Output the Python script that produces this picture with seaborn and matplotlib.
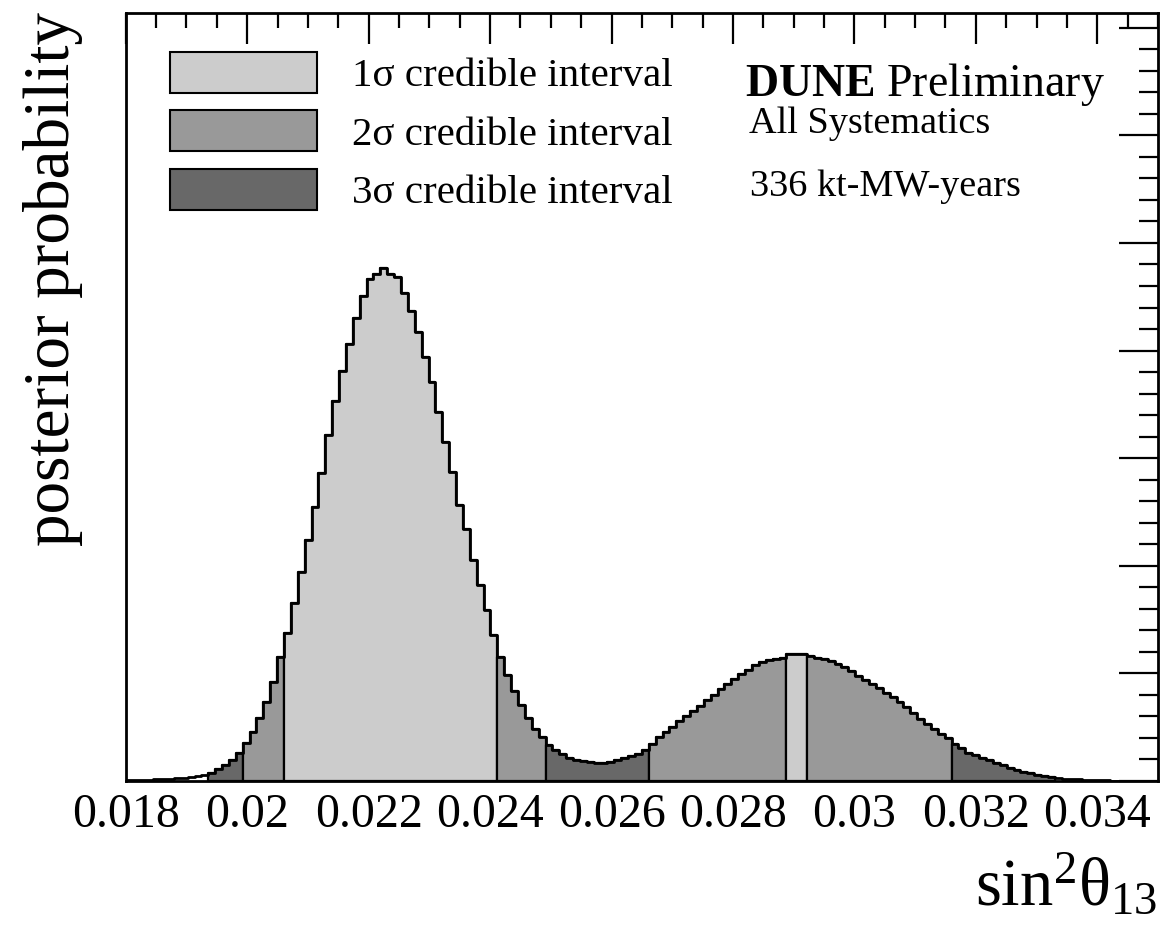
import numpy as np
import pandas as pd
import matplotlib
matplotlib.use("Agg")
import matplotlib.pyplot as plt
from matplotlib.patches import Patch
from matplotlib.ticker import MultipleLocator, FixedLocator, FixedFormatter
import seaborn as sns

# ---------------- data ----------------
x_lo, x_hi, n_bins = 0.018, 0.035, 150

posterior = [
    # 0-11 (outside 3 sigma)
    0.005, 0.007, 0.009, 0.012, 0.015, 0.018, 0.022, 0.026, 0.031, 0.037, 0.046, 0.059,
    # 12-22
    0.075, 0.112, 0.144, 0.198, 0.256, 0.352, 0.458, 0.589, 0.737, 0.923, 1.150,
    # 23-34
    1.377, 1.650, 1.942, 2.243, 2.550, 2.865, 3.214, 3.532, 3.807, 4.057, 4.300, 4.508,
    # 35-47
    4.663, 4.711, 4.769, 4.711, 4.685, 4.532, 4.368, 4.176, 3.939, 3.711, 3.432, 3.147, 2.871,
    # 48-60
    2.567, 2.346, 2.051, 1.823, 1.592, 1.355, 1.156, 0.983, 0.839, 0.704, 0.586, 0.487, 0.410,
    # 61-75
    0.335, 0.288, 0.247, 0.216, 0.198, 0.185, 0.173, 0.166, 0.169, 0.176, 0.191, 0.210, 0.229, 0.254, 0.285,
    # 76-95
    0.341, 0.413, 0.456, 0.503, 0.553, 0.603, 0.653, 0.697, 0.753, 0.803, 0.856, 0.902, 0.946, 0.990,
    1.033, 1.074, 1.105, 1.121, 1.133, 1.146,
    # 96-98
    1.183, 1.183, 1.177,
    # 99-119
    1.164, 1.146, 1.133, 1.114, 1.089, 1.059, 1.021, 0.980, 0.940, 0.902, 0.865, 0.822, 0.778, 0.731,
    0.684, 0.628, 0.578, 0.528, 0.481, 0.435, 0.397,
    # 120-134
    0.348, 0.304, 0.263, 0.238, 0.216, 0.191, 0.169, 0.148, 0.123, 0.104, 0.085, 0.070, 0.058, 0.045, 0.035,
    # 135-149
    0.029, 0.023, 0.017, 0.014, 0.011, 0.008, 0.006, 0.005, 0.004, 0.003, 0.003, 0.002, 0.002, 0.001, 0.001,
]

ci_1sigma = [(0.020607, 0.024120), (0.028880, 0.029220)]
ci_2sigma = [(0.019927, 0.024913), (0.026613, 0.031600)]
ci_3sigma = [(0.019360, 0.033300)]

legend_labels = ["1σ credible interval", "2σ credible interval", "3σ credible interval"]
level_colors = {1: "#cccccc", 2: "#999999", 3: "#686868"}

x_ticks = [0.018, 0.020, 0.022, 0.024, 0.026, 0.028, 0.030, 0.032, 0.034]
x_ticklabels = ["0.018", "0.02", "0.022", "0.024", "0.026", "0.028", "0.03", "0.032", "0.034"]

# ---------------- style ----------------
sns.set_theme(style="white")
plt.rcParams["font.family"] = ["Liberation Serif", "DejaVu Serif"]
plt.rcParams["mathtext.fontset"] = "custom"
plt.rcParams["mathtext.rm"] = "Liberation Serif"
plt.rcParams["mathtext.it"] = "Liberation Serif"
plt.rcParams["mathtext.bf"] = "Liberation Serif:bold"
plt.rcParams["text.color"] = "black"
plt.rcParams["axes.labelcolor"] = "black"
plt.rcParams["xtick.color"] = "black"
plt.rcParams["ytick.color"] = "black"

edges = np.linspace(x_lo, x_hi, n_bins + 1)
centers = 0.5 * (edges[:-1] + edges[1:])
heights = np.array(posterior)


def level_of(c):
    for lvl, ivs in ((1, ci_1sigma), (2, ci_2sigma), (3, ci_3sigma)):
        for a, b in ivs:
            if a <= c <= b:
                return lvl
    return 0


levels = np.array([level_of(c) for c in centers])
df = pd.DataFrame({"x": centers, "w": heights, "level": levels})

fig = plt.figure(figsize=(11.6, 9.26), dpi=100)
ax = fig.add_axes([0.1084, 0.1566, 0.8899, 0.8297])

# overall outline (incl. white tails)
sns.histplot(data=df, x="x", weights="w", bins=[float(v) for v in edges], element="step",
             fill=False, color="black", linewidth=2.0, ax=ax)

# filled credible-interval segments
runs = []
start = 0
for i in range(1, n_bins + 1):
    if i == n_bins or levels[i] != levels[start]:
        runs.append((start, i))
        start = i
for s, e in runs:
    lvl = levels[s]
    if lvl == 0:
        continue
    sub = df.iloc[s:e]
    sns.histplot(data=sub, x="x", weights="w", bins=[float(v) for v in edges[s:e + 1]],
                 element="step", fill=True, color=level_colors[lvl], alpha=1.0,
                 edgecolor="black", linewidth=1.6, ax=ax)

ax.set_xlim(x_lo, x_hi)
ax.set_ylim(0, 7.14)

ax.xaxis.set_major_locator(FixedLocator(x_ticks))
ax.xaxis.set_major_formatter(FixedFormatter(x_ticklabels))
ax.xaxis.set_minor_locator(MultipleLocator(0.0005))
ax.yaxis.set_major_locator(MultipleLocator(1.0))
ax.yaxis.set_minor_locator(MultipleLocator(0.2))
ax.tick_params(axis="both", which="both", direction="in", top=True, right=True, width=1.6,
               color="black", labelcolor="black")
ax.tick_params(axis="x", which="major", length=22, labelsize=34.5, pad=9)
ax.tick_params(axis="x", which="minor", length=11)
ax.tick_params(axis="y", which="major", length=28, labelleft=False)
ax.tick_params(axis="y", which="minor", length=14)
for sp in ax.spines.values():
    sp.set_visible(True)
    sp.set_color("black")
    sp.set_linewidth(2.0)
ax.set_xlabel("")
ax.set_ylabel("")

fig.text(0.020, 0.987, "posterior probability", rotation=90, fontsize=47,
         ha="left", va="top", color="black")
fig.text(0.998, 0.0227, r"$\mathrm{sin}^{2}\mathrm{\theta}_{13}$", fontsize=48,
         ha="right", va="baseline", color="black")

handles = [Patch(facecolor=level_colors[i], edgecolor="black", linewidth=1.5) for i in (1, 2, 3)]
leg = ax.legend(handles, legend_labels, loc="upper left", bbox_to_anchor=(0.0429, 0.9490),
                frameon=False, fontsize=29.5, handlelength=3.58, handleheight=1.163,
                labelspacing=0.37, handletextpad=0.85, borderaxespad=0, borderpad=0)
for t in leg.get_texts():
    t.set_color("black")

ax.text(0.600, 0.8915, r"$\mathbf{DUNE}$ Preliminary", transform=ax.transAxes, fontsize=33,
        ha="left", va="baseline", color="black")
ax.text(0.6038, 0.843, "All Systematics", transform=ax.transAxes, fontsize=27.5,
        ha="left", va="baseline", color="black")
ax.text(0.6048, 0.7615, "336 kt-MW-years", transform=ax.transAxes, fontsize=27.5,
        ha="left", va="baseline", color="black")

fig.savefig("out.png", dpi=100)
